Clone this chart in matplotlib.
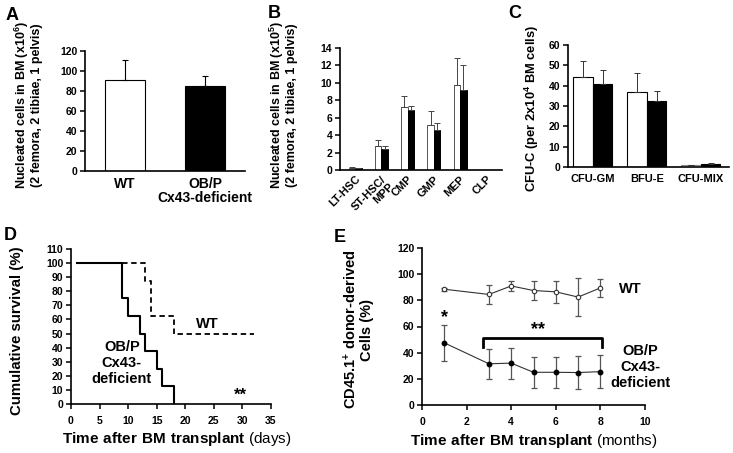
import numpy as np
import matplotlib
matplotlib.use('Agg')
import matplotlib.pyplot as plt

plt.rcParams['font.family'] = ['Liberation Sans', 'DejaVu Sans']
plt.rcParams['font.weight'] = 'bold'
plt.rcParams['axes.labelweight'] = 'bold'
plt.rcParams['mathtext.fontset'] = 'custom'
plt.rcParams['mathtext.rm'] = 'Liberation Sans:bold'
plt.rcParams['mathtext.bf'] = 'Liberation Sans:bold'
plt.rcParams['mathtext.default'] = 'bf'

# ── data ──────────────────────────────────────────
a_groups = ['WT', 'OB/P\nCx43-deficient']
a_mean = [91, 85]
a_err = [20, 10]

b_cats = ['LT-HSC', 'ST-HSC/\nMPP', 'CMP', 'GMP', 'MEP', 'CLP']
b_wt = [0.25, 2.7, 7.2, 5.2, 9.8, 0.0]
b_wt_err = [0.08, 0.7, 1.3, 1.6, 3.0, 0.0]
b_ko = [0.2, 2.4, 6.85, 4.6, 9.2, 0.0]
b_ko_err = [0.05, 0.35, 0.55, 0.8, 2.8, 0.0]

c_cats = ['CFU-GM', 'BFU-E', 'CFU-MIX']
c_wt = [44.5, 37.0, 0.8]
c_wt_err = [7.5, 9.0, 0.3]
c_ko = [41.0, 32.5, 1.7]
c_ko_err = [6.5, 5.0, 0.5]

d_ko_days = [1, 9, 10, 12, 13, 15, 16, 18]
d_ko_surv = [100, 75, 62.5, 50, 37.5, 25, 12.5, 0]
d_wt_days = [1, 13, 14, 18, 32]
d_wt_surv = [100, 87.5, 62.5, 50, 50]

e_months = [1, 3, 4, 5, 6, 7, 8]
e_wt = [88.5, 84.5, 91, 87.5, 86.5, 82.5, 89.5]
e_wt_err = [1.3, 7.5, 4.0, 7.0, 8.5, 14.5, 7.0]
e_ko = [47.5, 31.5, 32, 25, 25, 24.8, 25.5]
e_ko_err = [14, 11.3, 11.8, 12, 12, 12.3, 12.5]

W, H = 733, 453
fig = plt.figure(figsize=(W / 100, H / 100), dpi=100)


def add_ax(l, r, b, t):
    return fig.add_axes([l / W, 1 - b / H, (r - l) / W, (b - t) / H])


def style(ax):
    for s in ['top', 'right']:
        ax.spines[s].set_visible(False)
    for s in ['left', 'bottom']:
        ax.spines[s].set_linewidth(1.2)
    ax.tick_params(axis='y', direction='out', length=3.5, width=1.1, labelsize=7.5, pad=2)
    ax.tick_params(axis='x', direction='out', length=3.5, width=1.1, labelsize=7.5, pad=5)


# ── (A) ──────────────────────────────────────────
ax = add_ax(85, 245, 171, 51)
style(ax)
x = np.arange(len(a_groups))
ax.bar(x, a_mean, 0.5, color=['white', 'black'], edgecolor='black', linewidth=0.8)
ax.errorbar(x, a_mean, yerr=[[0, 0], a_err], fmt='none', ecolor='black', elinewidth=0.8, capsize=2.5, capthick=0.8)
ax.set_xlim(-0.5, 1.5)
ax.set_ylim(0, 120)
ax.set_yticks(range(0, 121, 20))
ax.set_xticks(x)
ax.set_xticklabels(a_groups, fontsize=10, linespacing=1.05)
ax.tick_params(axis='x', length=0, pad=4)
ax.set_ylabel('Nucleated cells in BM (x10$^{6}$)\n(2 femora, 2 tibiae, 1 pelvis)', fontsize=9.0, linespacing=1.0)
ax.yaxis.set_label_coords(-0.265, 0.55)
fig.text(6 / W, 1 - 15 / H, 'A', fontsize=13, va='center')

# ── (B) ──────────────────────────────────────────
ax = add_ax(340, 502, 170, 48)
style(ax)
x = np.arange(len(b_cats))
bw = 0.25
ax.bar(x - bw / 2, b_wt, bw, color='white', edgecolor=['#888888'] + ['#555555'] * 5, linewidth=0.7)
ax.bar(x + bw / 2, b_ko, bw, color='black', edgecolor='black', linewidth=0.7)
ax.errorbar(x[:5] - bw / 2, b_wt[:5], yerr=[[0] * 5, b_wt_err[:5]], fmt='none', ecolor='#444444', elinewidth=0.7, capsize=2, capthick=0.7)
ax.errorbar(x[:5] + bw / 2, b_ko[:5], yerr=[[0] * 5, b_ko_err[:5]], fmt='none', ecolor='#444444', elinewidth=0.7, capsize=2, capthick=0.7)
ax.set_xlim(-0.58, 5.6)
ax.set_ylim(0, 14)
ax.set_yticks(range(0, 15, 2))
ax.set_xticks(x)
ax.set_xticklabels(b_cats, rotation=45, ha='right', rotation_mode='anchor', fontsize=8, linespacing=1.0)
ax.tick_params(axis='x', length=0, pad=3)
ax.set_ylabel('Nucleated cells in BM (x10$^{5}$)\n(2 femora, 2 tibiae, 1 pelvis)', fontsize=9.0, linespacing=1.0)
ax.yaxis.set_label_coords(-0.26, 0.53)
fig.text(268 / W, 1 - 14 / H, 'B', fontsize=13, va='center')

# ── (C) ──────────────────────────────────────────
ax = add_ax(568, 729, 167, 45)
style(ax)
x = np.arange(len(c_cats))
bw = 0.36
ax.bar(x - bw / 2, c_wt, bw, color='white', edgecolor=['black', 'black', '#888888'], linewidth=0.8)
ax.bar(x + bw / 2, c_ko, bw, color='black', edgecolor='black', linewidth=0.8)
ax.errorbar(x - bw / 2, c_wt, yerr=[[0] * 3, c_wt_err], fmt='none', ecolor='#333333', elinewidth=0.7, capsize=2, capthick=0.7)
ax.errorbar(x + bw / 2, c_ko, yerr=[[0] * 3, c_ko_err], fmt='none', ecolor='#333333', elinewidth=0.7, capsize=2, capthick=0.7)
ax.set_xlim(-0.46, 2.52)
ax.set_ylim(0, 60)
ax.set_yticks(range(0, 61, 10))
ax.set_xticks(x)
ax.set_xticklabels(c_cats, fontsize=8)
ax.tick_params(axis='x', length=0, pad=5)
ax.set_ylabel('CFU-C (per 2x10$^{4}$ BM cells)', fontsize=9.3)
ax.yaxis.set_label_coords(-0.165, 0.48)
fig.text(508 / W, 1 - 14 / H, 'C', fontsize=13, va='center')

# ── (D) ──────────────────────────────────────────
ax = add_ax(71, 271, 404, 249)
style(ax)
ax.step(d_ko_days, d_ko_surv, where='post', color='black', lw=1.5)
ax.step(d_wt_days, d_wt_surv, where='post', color='black', lw=1.3, ls=(0, (3, 2)))
ax.set_xlim(0, 35)
ax.set_ylim(0, 110)
ax.set_xticks(range(0, 36, 5))
ax.set_yticks(range(0, 111, 10))
ax.text(23.8, 57, 'WT', fontsize=10.5, ha='center', va='center')
ax.text(8.9, 29, 'OB/P\nCx43-\ndeficient', fontsize=10.5, ha='center', va='center', linespacing=1.15)
ax.text(29.6, 6, '**', fontsize=12, ha='center', va='center')
ax.set_ylabel('Cumulative survival (%)', fontsize=10.8)
ax.yaxis.set_label_coords(-0.235, 0.47)
ax.set_xlabel(r'$Time\ after\ BM\ transplant$ (days)', fontsize=11, fontweight='normal')
ax.xaxis.set_label_coords(0.53, -0.17)
fig.text(4 / W, 1 - 236 / H, 'D', fontsize=13, va='center')

# ── (E) ──────────────────────────────────────────
ax = add_ax(422, 645, 405, 248)
style(ax)
ax.errorbar(e_months, e_wt, yerr=e_wt_err, fmt='none', ecolor='#555555', elinewidth=0.9, capsize=2, capthick=0.9)
ax.errorbar(e_months, e_ko, yerr=e_ko_err, fmt='none', ecolor='#555555', elinewidth=0.9, capsize=2, capthick=0.9)
ax.plot(e_months, e_wt, color='#333333', lw=0.8, marker='o', ms=3.2, mfc='white', mec='#333333', mew=0.8)
ax.plot(e_months, e_ko, color='#333333', lw=0.8, marker='o', ms=3.2, mfc='black', mec='black')
ax.set_xlim(0, 10)
ax.set_ylim(0, 120)
ax.set_xticks(range(0, 11, 2))
ax.set_yticks(range(0, 121, 20))
ax.plot([2.73, 2.73, 8.05, 8.05], [44.5, 51.5, 51.5, 44.5], color='black', lw=2)
ax.text(5.2, 58, '**', fontsize=13, ha='center', va='center')
ax.text(1, 67, '*', fontsize=13, ha='center', va='center')
ax.text(9.35, 89, 'WT', fontsize=10.5, ha='center', va='center', clip_on=False)
ax.text(9.8, 29, 'OB/P\nCx43-\ndeficient', fontsize=10.5, ha='center', va='center', linespacing=1.15, clip_on=False)
ax.set_ylabel('CD45.1$^{+}$ donor-derived\nCells (%)', fontsize=10.5, linespacing=1.05)
ax.yaxis.set_label_coords(-0.215, 0.48)
ax.set_xlabel(r'$Time\ after\ BM\ transplant$ (months)', fontsize=11, fontweight='normal')
ax.xaxis.set_label_coords(0.5, -0.17)
fig.text(334 / W, 1 - 238 / H, 'E', fontsize=13, va='center')

fig.savefig('out.png', dpi=100)
